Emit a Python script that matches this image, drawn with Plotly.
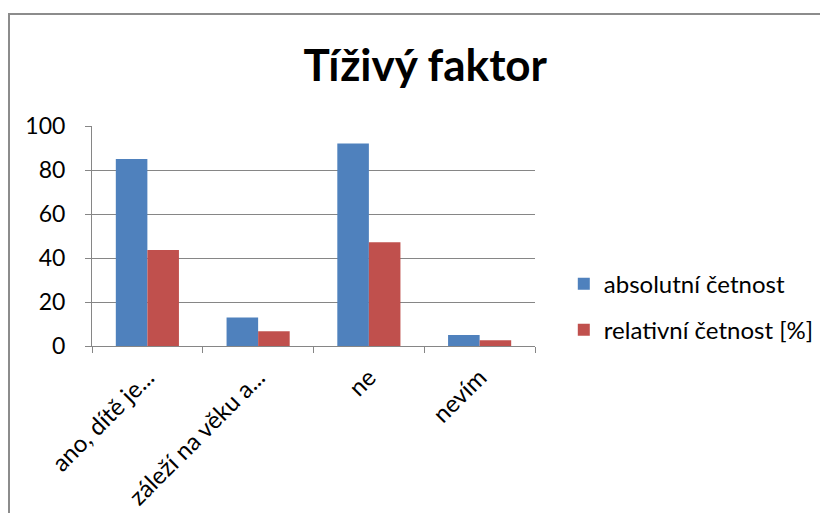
import plotly.graph_objs as go

# Data
categories = ["ano, dítě je...", "záleží na věku a...", "ne", "nevím"]
absolutni = [85, 13, 92, 5]
relativni = [43.6, 6.7, 47.2, 2.6]
y_ticks = [0, 20, 40, 60, 80, 100]

font_name = "Lato, 'Liberation Sans', sans-serif"

fig = go.Figure()

fig.add_trace(go.Bar(
    x=categories,
    y=absolutni,
    name='absolutní četnost',
    legendgroup='a',
    marker=dict(color='#4f81bd', line=dict(width=0))
))

fig.add_trace(go.Bar(
    x=categories,
    y=relativni,
    name='relativní četnost [%]',
    legendgroup='b',
    marker=dict(color='#c0504d', line=dict(width=0))
))

# Outer chart border (Excel chart area), right edge runs off the page
fig.add_shape(
    type='rect', xref='paper', yref='paper',
    x0=-83 / 443, x1=780 / 443, y0=-1.0, y1=1 + 112 / 220,
    line=dict(color='#8c8c8c', width=2), fillcolor='rgba(0,0,0,0)'
)

fig.update_layout(
    width=828,
    height=513,
    title=dict(
        text='<b>Tíživý faktor</b>',
        x=0.504, xanchor='center',
        y=0.887, yanchor='middle',
        font=dict(family=font_name, size=44, color='black')
    ),
    font=dict(family=font_name, color='black'),
    barmode='group',
    bargap=0.43,
    bargroupgap=0,
    plot_bgcolor='white',
    paper_bgcolor='white',
    margin=dict(l=84, r=301, t=118, b=175),
    showlegend=True,
    legend=dict(
        x=1.065, y=0.177, xanchor='left', yanchor='middle',
        font=dict(family=font_name, size=24, color='black'),
        tracegroupgap=12,
        bgcolor='rgba(0,0,0,0)'
    ),
    xaxis=dict(
        type='category',
        tickangle=-45,
        tickfont=dict(family=font_name, size=24, color='black'),
        showline=True, linecolor='#868686', linewidth=1,
        ticks='outside', tickson='boundaries', ticklen=6, tickcolor='#868686',
        ticklabelstandoff=7,
        showgrid=False
    ),
    yaxis=dict(
        range=[0, 100],
        tickvals=y_ticks,
        tickfont=dict(family=font_name, size=23, color='black'),
        showline=True, linecolor='#868686', linewidth=1,
        ticks='outside', ticklen=6, tickcolor='#868686',
        ticklabelstandoff=15,
        showgrid=True, gridcolor='#868686', gridwidth=1,
        zeroline=False
    )
)

fig.write_html("out.html")
